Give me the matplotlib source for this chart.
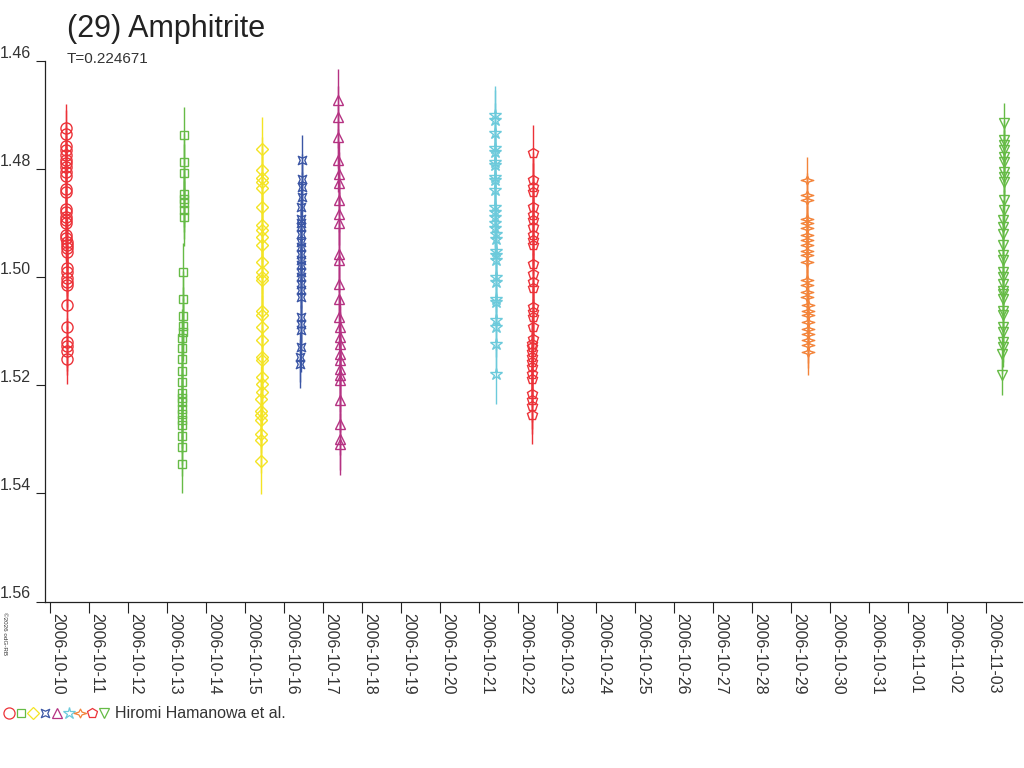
import numpy as np
import pandas as pd
import matplotlib
matplotlib.use("Agg")
import matplotlib.pyplot as plt
from matplotlib.path import Path

plt.rcParams['font.family'] = ['Liberation Sans', 'DejaVu Sans']

# Time = days since 2006-10-10 00:00, value = magnitude
# Session 1 (red circles)
t1 = [0.398, 0.399, 0.401, 0.402, 0.403, 0.404, 0.405, 0.406, 0.407, 0.408,
      0.411, 0.412, 0.415, 0.416, 0.417, 0.418, 0.419, 0.422, 0.423, 0.424,
      0.425, 0.426, 0.427, 0.430, 0.431, 0.432, 0.433, 0.434, 0.437, 0.440,
      0.442, 0.443, 0.444, 0.446]
m1 = [1.4725, 1.4736, 1.4758, 1.4765, 1.4775, 1.4784, 1.4789, 1.4797, 1.4806, 1.4814,
      1.4838, 1.4843, 1.4875, 1.4880, 1.4889, 1.4895, 1.4901, 1.4923, 1.4928, 1.4936,
      1.4941, 1.4947, 1.4954, 1.4984, 1.4991, 1.5002, 1.5010, 1.5015, 1.5052, 1.5093,
      1.5121, 1.5128, 1.5136, 1.5152]

# Session 2 (green squares)
t2 = [3.440, 3.441, 3.442, 3.443, 3.444, 3.445, 3.446, 3.447, 3.420, 3.418,
      3.400, 3.399, 3.398, 3.397, 3.396, 3.395, 3.394, 3.393, 3.392, 3.391,
      3.390, 3.389, 3.388, 3.387, 3.386, 3.385, 3.384, 3.383]
m2 = [1.4738, 1.4787, 1.4807, 1.4847, 1.4855, 1.4864, 1.4876, 1.4889, 1.4991, 1.5041,
      1.5072, 1.5091, 1.5102, 1.5112, 1.5131, 1.5151, 1.5174, 1.5194, 1.5214, 1.5224,
      1.5231, 1.5244, 1.5253, 1.5264, 1.5273, 1.5294, 1.5315, 1.5346]

# Session 3 (yellow diamonds)
t3 = [5.446, 5.445, 5.444, 5.443, 5.442, 5.441, 5.440, 5.439, 5.438, 5.437,
      5.436, 5.435, 5.434, 5.433, 5.431, 5.430, 5.429, 5.428, 5.427, 5.426,
      5.425, 5.424, 5.423, 5.422, 5.421, 5.420, 5.419, 5.418, 5.417, 5.412]
m3 = [1.4764, 1.4802, 1.4816, 1.4824, 1.4836, 1.4871, 1.4904, 1.4913, 1.4926, 1.4941,
      1.4972, 1.4991, 1.5000, 1.5006, 1.5062, 1.5071, 1.5093, 1.5117, 1.5148, 1.5154,
      1.5185, 1.5197, 1.5213, 1.5225, 1.5247, 1.5256, 1.5265, 1.5290, 1.5302, 1.5341]

# Session 4 (blue)
t4 = [6.455, 6.453, 6.451, 6.449, 6.447, 6.445, 6.444, 6.443, 6.442, 6.441,
      6.440, 6.439, 6.438, 6.437, 6.436, 6.435, 6.434, 6.433, 6.432, 6.428,
      6.427, 6.426, 6.423, 6.421, 6.420]
m4 = [1.4784, 1.4818, 1.4833, 1.4852, 1.4870, 1.4892, 1.4901, 1.4907, 1.4920, 1.4935,
      1.4944, 1.4957, 1.4969, 1.4978, 1.4991, 1.5000, 1.5012, 1.5024, 1.5037, 1.5074,
      1.5086, 1.5098, 1.5130, 1.5148, 1.5160]

# Session 5 (magenta triangles)
t5 = [7.385, 7.388, 7.391, 7.395, 7.397, 7.399, 7.402, 7.404, 7.406, 7.411,
      7.412, 7.416, 7.419, 7.422, 7.424, 7.426, 7.427, 7.429, 7.430, 7.432,
      7.433, 7.434, 7.438, 7.442, 7.445, 7.446]
m5 = [1.4673, 1.4704, 1.4741, 1.4784, 1.4809, 1.4827, 1.4858, 1.4883, 1.4901, 1.4957,
      1.4969, 1.5012, 1.5040, 1.5074, 1.5093, 1.5111, 1.5123, 1.5142, 1.5154, 1.5170,
      1.5182, 1.5191, 1.5228, 1.5271, 1.5299, 1.5309]

# Session 6 (cyan stars)
t6 = [11.400, 11.401, 11.403, 11.405, 11.406, 11.408, 11.409, 11.411, 11.412, 11.414,
      11.417, 11.418, 11.419, 11.420, 11.421, 11.422, 11.423, 11.425, 11.426, 11.427,
      11.430, 11.431, 11.434, 11.435, 11.438, 11.439, 11.442, 11.447]
m6 = [1.4701, 1.4710, 1.4734, 1.4762, 1.4769, 1.4787, 1.4793, 1.4815, 1.4821, 1.4839,
      1.4870, 1.4880, 1.4889, 1.4901, 1.4910, 1.4920, 1.4929, 1.4951, 1.4960, 1.4969,
      1.5000, 1.5009, 1.5040, 1.5046, 1.5080, 1.5093, 1.5123, 1.5179]

# Session 7 (red pentagons)
t7 = [12.395, 12.392, 12.391, 12.390, 12.388, 12.387, 12.386, 12.385, 12.384, 12.383,
      12.382, 12.380, 12.379, 12.378, 12.377, 12.375, 12.374, 12.373, 12.372, 12.371,
      12.370, 12.369, 12.368, 12.367, 12.366, 12.365, 12.364, 12.363, 12.361, 12.360,
      12.359, 12.357]
m7 = [1.4771, 1.4821, 1.4833, 1.4843, 1.4870, 1.4886, 1.4895, 1.4907, 1.4923, 1.4932,
      1.4941, 1.4975, 1.4994, 1.5009, 1.5021, 1.5056, 1.5065, 1.5074, 1.5093, 1.5114,
      1.5123, 1.5130, 1.5139, 1.5148, 1.5157, 1.5167, 1.5179, 1.5188, 1.5216, 1.5228,
      1.5238, 1.5256]

# Session 8 (orange four-point stars)
t8 = [19.412, 19.413, 19.413, 19.414, 19.414, 19.415, 19.415, 19.416, 19.416, 19.417,
      19.417, 19.418, 19.419, 19.419, 19.420, 19.420, 19.421, 19.421, 19.422, 19.422,
      19.423, 19.423, 19.424, 19.424, 19.425]
m8 = [1.4820, 1.4849, 1.4858, 1.4892, 1.4901, 1.4910, 1.4923, 1.4932, 1.4941, 1.4951,
      1.4960, 1.4972, 1.5006, 1.5015, 1.5028, 1.5037, 1.5052, 1.5062, 1.5071, 1.5083,
      1.5096, 1.5105, 1.5117, 1.5126, 1.5139]

# Session 9 (green down triangles)
t9 = [24.462, 24.459, 24.458, 24.457, 24.456, 24.455, 24.453, 24.452, 24.451, 24.448,
      24.446, 24.444, 24.443, 24.442, 24.440, 24.438, 24.437, 24.435, 24.434, 24.433,
      24.432, 24.431, 24.430, 24.428, 24.427, 24.425, 24.424, 24.422, 24.421, 24.420,
      24.415]
m9 = [1.4716, 1.4747, 1.4756, 1.4765, 1.4778, 1.4787, 1.4806, 1.4815, 1.4824, 1.4858,
      1.4876, 1.4895, 1.4907, 1.4920, 1.4941, 1.4960, 1.4969, 1.4991, 1.5000, 1.5012,
      1.5025, 1.5031, 1.5040, 1.5062, 1.5071, 1.5093, 1.5102, 1.5120, 1.5130, 1.5142,
      1.5182]

# typical error of each session
errors = [0.0045, 0.0053, 0.0060, 0.0046, 0.0058, 0.0055, 0.0053, 0.0042, 0.0037]

y_ticks = [1.46, 1.48, 1.50, 1.52, 1.54, 1.56]
date_labels = pd.date_range("2006-10-10", "2006-11-03").strftime("%Y-%m-%d").tolist()

# custom markers
concave_sq = Path([(-1, -1), (0, -0.55), (1, -1), (0.55, 0), (1, 1), (0, 0.55),
                   (-1, 1), (-0.55, 0), (-1, -1)], closed=True)
four_star = Path([(0, 0.7), (0.25, 0.22), (1, 0), (0.25, -0.22), (0, -0.7), (-0.25, -0.22),
                  (-1, 0), (-0.25, 0.22), (0, 0.7)], closed=True)

red = '#ec3238'
green = '#66bb46'
# footer order of observers
styles = [
    (red, 'o', 8.0),
    (green, 's', 5.5),
    ('#f4e424', 'D', 5.8),
    ('#3b56a5', concave_sq, 6.0),
    ('#b53282', '^', 7.0),
    ('#6ccadb', '*', 9.0),
    ('#f3843a', four_star, 9.0),
    (red, 'p', 7.5),
    (green, 'v', 7.0),
]
# which style each session uses
session_style = [0, 1, 2, 3, 4, 5, 7, 6, 8]

sessions = [(t1, m1), (t2, m2), (t3, m3), (t4, m4), (t5, m5),
            (t6, m6), (t7, m7), (t8, m8), (t9, m9)]

fig = plt.figure(figsize=(10.24, 7.68), dpi=100)
ax = fig.add_axes([45/1024, 1 - 601.5/768, (1022-45)/1024, (601.5-60.7)/768])

for (t, m), err, si in zip(sessions, errors, session_style):
    c, mk, ms = styles[si]
    ax.errorbar(t, m, yerr=err, fmt='none', ecolor=c, elinewidth=1.0, capsize=0)
    ax.plot(t, m, ls='none', marker=mk, ms=ms, mfc='none', mec=c, mew=1.0)

ax.set_xlim(-0.128, 24.92)
ax.set_ylim(1.56, 1.46)

ax.set_yticks(y_ticks)
ax.set_yticklabels([f"{v:.2f}" for v in y_ticks], va='bottom', fontsize=11.5, color='#333333')
ax.set_xticks(range(len(date_labels)))
ax.set_xticklabels(date_labels, rotation=-90, ha='left', va='top', fontsize=11.5, color='#333333')

ax.tick_params(axis='y', direction='out', length=6.5, width=0.8, color='#222222', pad=3.5)
ax.tick_params(axis='x', direction='out', length=8, width=0.8, color='#222222', pad=0.5)

for s in ['top', 'right']:
    ax.spines[s].set_visible(False)
for s in ['left', 'bottom']:
    ax.spines[s].set_color('#222222')
    ax.spines[s].set_linewidth(0.9)

fig.text(67/1024, 1 - 37/768, "(29) Amphitrite", fontsize=22, color='#222222', va='baseline')
fig.text(67/1024, 1 - 63/768, "T=0.224671", fontsize=11, color='#333333', va='baseline')
fig.text(2/1024, 1 - 612/768, "©2026 odG-RB", fontsize=4.5, rotation=-90,
         ha='left', va='top', color='#333333')

# footer marker row
for i, (c, mk, ms) in enumerate(styles):
    ax.plot([(9 + 11.9*i)/1024], [1 - 713/768], transform=fig.transFigure, clip_on=False,
            ls='none', marker=mk, ms=ms, mfc='none', mec=c, mew=0.9)
fig.text(115/1024, 1 - 713/768, "Hiromi Hamanowa et al.", fontsize=11.5,
         color='#333333', va='center')

fig.savefig("out.png", dpi=100)
